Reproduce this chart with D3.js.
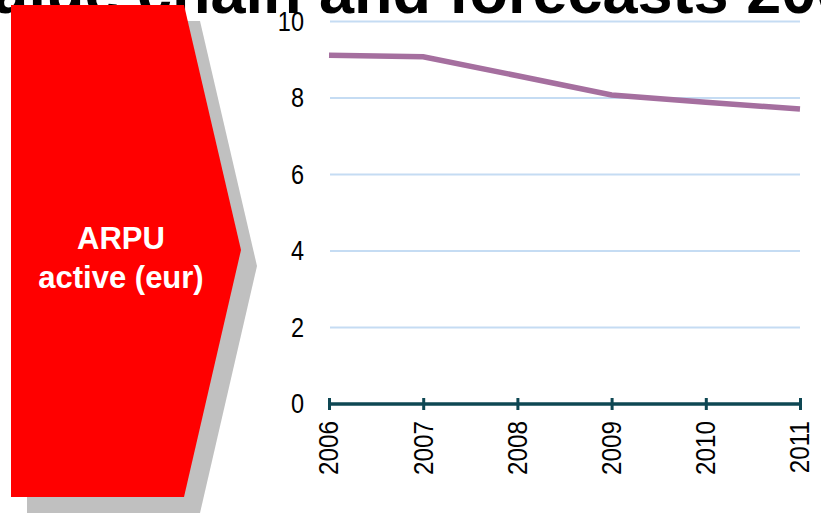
<!DOCTYPE html>
<html>
<head>
<meta charset="utf-8">
<script src="https://cdn.jsdelivr.net/npm/d3@7"></script>
<style>
  html, body { margin: 0; padding: 0; background: #fff; }
  svg { display: block; font-family: "Liberation Sans", Arial, sans-serif; }
</style>
</head>
<body>
<svg id="chart" width="821" height="515"></svg>
<script>
// ARPU of active users, euro per month
const years = ["2006", "2007", "2008", "2009", "2010", "2011"];
const arpu = [9.12, 9.08, 8.58, 8.08, 7.89, 7.71];
const yTicks = [0, 2, 4, 6, 8, 10];
const titleText = "2. Value chain and forecasts 2006-2011";
const badgeLines = ["ARPU", "active (eur)"];

const svg = d3.select("#chart");

// Slide title, partly hidden behind the badge
const title = svg.append("text")
  .attr("y", 13)
  .attr("font-size", 63)
  .attr("font-weight", "bold")
  .attr("fill", "#000")
  .text(titleText);
// place "forecasts" at a fixed x
const probe = svg.append("text").attr("font-size", 63).attr("font-weight", "bold")
  .text("2. Value chain and ");
const prefixW = probe.node().getComputedTextLength();
probe.remove();
title.attr("x", 431 - prefixW);

// Arrow badge with drop shadow
const badge = (dx, dy) => {
  const p = d3.path();
  p.moveTo(11 + dx, 5 + dy);
  p.lineTo(184 + dx, 5 + dy);
  p.lineTo(241 + dx, 250 + dy);
  p.lineTo(184 + dx, 497 + dy);
  p.lineTo(11 + dx, 497 + dy);
  p.closePath();
  return p.toString();
};
svg.append("path").attr("d", badge(16, 16)).attr("fill", "#c0c0c0");
svg.append("path").attr("d", badge(0, 0)).attr("fill", "#ff0000");
svg.append("text")
  .attr("x", 121).attr("y", 249)
  .attr("text-anchor", "middle")
  .attr("font-size", 31).attr("font-weight", "bold").attr("fill", "#fff")
  .selectAll("tspan").data(badgeLines).join("tspan")
  .attr("x", 121).attr("dy", (d, i) => i === 0 ? 0 : 39)
  .text(d => d);

// Scales
const x = d3.scalePoint().domain(years).range([329, 800]);
const y = d3.scaleLinear().domain([0, 10]).range([404, 21.5]);

// Tick labels use a slightly condensed face
const condense = (sel, k) => sel.each(function () {
  const w = this.getComputedTextLength();
  d3.select(this).attr("textLength", w * k).attr("lengthAdjust", "spacingAndGlyphs");
});

// Gridlines
svg.append("g")
  .selectAll("line").data(yTicks.filter(v => v > 0)).join("line")
  .attr("x1", 330).attr("x2", 800)
  .attr("y1", d => y(d)).attr("y2", d => y(d))
  .attr("stroke", "#c5dcf3").attr("stroke-width", 2);

// Y axis labels
const yAxis = svg.append("g")
  .attr("transform", "translate(304,0)")
  .call(d3.axisLeft(y).tickValues(yTicks).tickSize(0).tickPadding(0));
yAxis.select(".domain").remove();
yAxis.selectAll("text")
  .attr("font-size", 27).attr("fill", "#000")
  .attr("font-family", "'Liberation Sans', Arial, sans-serif")
  .call(condense, 0.87);

// X axis
const xAxis = svg.append("g")
  .attr("transform", `translate(0,${y(0)})`)
  .call(d3.axisBottom(x).tickSizeInner(6).tickSizeOuter(0).tickPadding(0));
xAxis.select(".domain")
  .attr("d", `M${x(years[0])},0H${x(years[years.length - 1])}`)
  .attr("stroke", "#0e4753").attr("stroke-width", 3.5);
xAxis.selectAll(".tick line")
  .attr("y1", -6).attr("y2", 6)
  .attr("stroke", "#0e4753").attr("stroke-width", 3);
xAxis.selectAll(".tick text")
  .attr("font-size", 27).attr("fill", "#000")
  .attr("font-family", "'Liberation Sans', Arial, sans-serif")
  .attr("text-anchor", "end")
  .attr("transform", "rotate(-90)")
  .attr("x", -17).attr("y", 0).attr("dy", "0.33em")
  .call(condense, 0.9);

// ARPU line
svg.append("path")
  .datum(arpu)
  .attr("fill", "none")
  .attr("stroke", "#a56f9f")
  .attr("stroke-width", 5.5)
  .attr("d", d3.line().x((d, i) => x(years[i])).y(d => y(d)));
</script>
</body>
</html>
